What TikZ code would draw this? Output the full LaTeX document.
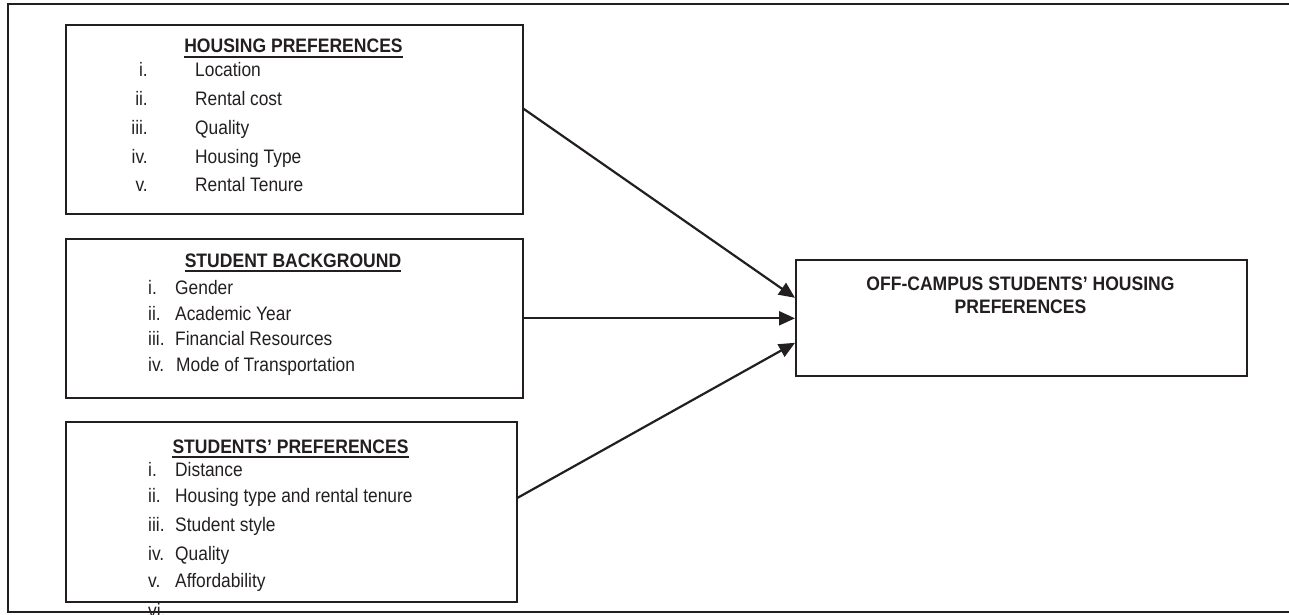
\documentclass[tikz,border=0pt]{standalone}
\usepackage{fontspec}
\usetikzlibrary{arrows.meta,calc}
\newfontfamily\rfont{Liberation Sans}[FakeStretch=0.89]
\newfontfamily\hfont{Liberation Sans}[FakeStretch=0.9]
\definecolor{ink}{HTML}{231F20}
\tikzset{
  box/.style={draw=ink, line width=1.6pt, rectangle, inner sep=0pt, anchor=north west},
  frame/.style={draw=ink, line width=1.4pt},
  item/.style={inner sep=0pt, text=ink, font=\rfont\fontsize{19.5}{23}\selectfont},
  head/.style={inner sep=0pt, text=ink, anchor=base, font=\hfont\bfseries\fontsize{19.5}{23}\selectfont},
  ul/.style={draw=ink, line width=1.7pt},
  conn/.style={draw=ink, line width=2.2pt, -{Triangle[length=16pt,width=14pt]}}
}
\begin{document}
\begin{tikzpicture}[x=1pt,y=-1pt]
\useasboundingbox (0,0) rectangle (1289,615);
\draw[frame] (8,4) rectangle (1300,612);

% boxes
\node[box, minimum width=457pt, minimum height=189pt] (b1) at (65,24) {};
\node[box, minimum width=457pt, minimum height=159pt] (b2) at (65,238) {};
\node[box, minimum width=451pt, minimum height=180pt] (b3) at (65,421) {};
\node[box, minimum width=451pt, minimum height=116pt] (tgt) at (795,259) {};

% box 1
\node[head] (h1) at (293.5,53) {HOUSING PREFERENCES};
\draw[ul] ([yshift=-4pt]h1.base west) -- ([yshift=-4pt]h1.base east);
\node[item, anchor=base east] (n11) at (148,77) {i.};
\node[item, anchor=base west] (i11) at (195,77) {Location};
\node[item, anchor=base east] (n12) at (148,106) {ii.};
\node[item, anchor=base west] (i12) at (195,106) {Rental cost};
\node[item, anchor=base east] (n13) at (148,134) {iii.};
\node[item, anchor=base west] (i13) at (195,134) {Quality};
\node[item, anchor=base east] (n14) at (148,163) {iv.};
\node[item, anchor=base west] (i14) at (195,163) {Housing Type};
\node[item, anchor=base east] (n15) at (148,191) {v.};
\node[item, anchor=base west] (i15) at (195,191) {Rental Tenure};

% box 2
\node[head] (h2) at (293,267) {STUDENT BACKGROUND};
\draw[ul] ([yshift=-4pt]h2.base west) -- ([yshift=-4pt]h2.base east);
\node[item, anchor=base west] (n21) at (148,294) {i.};
\node[item, anchor=base west] (i21) at (175,294) {Gender};
\node[item, anchor=base west] (n22) at (148,320) {ii.};
\node[item, anchor=base west] (i22) at (175,320) {Academic Year};
\node[item, anchor=base west] (n23) at (148,345) {iii.};
\node[item, anchor=base west] (i23) at (175,345) {Financial Resources};
\node[item, anchor=base west] (n24) at (148,371) {iv.};
\node[item, anchor=base west] (i24) at (176,371) {Mode of Transportation};

% box 3
\node[head] (h3) at (290.5,453) {STUDENTS’ PREFERENCES};
\draw[ul] ([yshift=-4pt]h3.base west) -- ([yshift=-4pt]h3.base east);
\node[item, anchor=base west] (n31) at (148,476) {i.};
\node[item, anchor=base west] (i31) at (175,476) {Distance};
\node[item, anchor=base west] (n32) at (148,502) {ii.};
\node[item, anchor=base west] (i32) at (175,502) {Housing type and rental tenure};
\node[item, anchor=base west] (n33) at (148,531) {iii.};
\node[item, anchor=base west] (i33) at (175,531) {Student style};
\node[item, anchor=base west] (n34) at (148,560) {iv.};
\node[item, anchor=base west] (i34) at (175,560) {Quality};
\node[item, anchor=base west] (n35) at (148,587) {v.};
\node[item, anchor=base west] (i35) at (175,587) {Affordability};
\node[item, anchor=base west] (n36) at (148,617) {vi.};

% target
\node[head] (t1) at (1020.5,290) {OFF-CAMPUS STUDENTS’ HOUSING};
\node[head] (t2) at (1020.5,313) {PREFERENCES};

% connectors
\draw[conn] ([yshift=10.5pt]b1.east) -- ([yshift=20pt]tgt.west);
\draw[conn] (b2.east) -- (b2.east -| tgt.west);
\draw[conn] ([yshift=14pt]b3.east) -- ([yshift=-25pt]tgt.west);
\end{tikzpicture}
\end{document}
